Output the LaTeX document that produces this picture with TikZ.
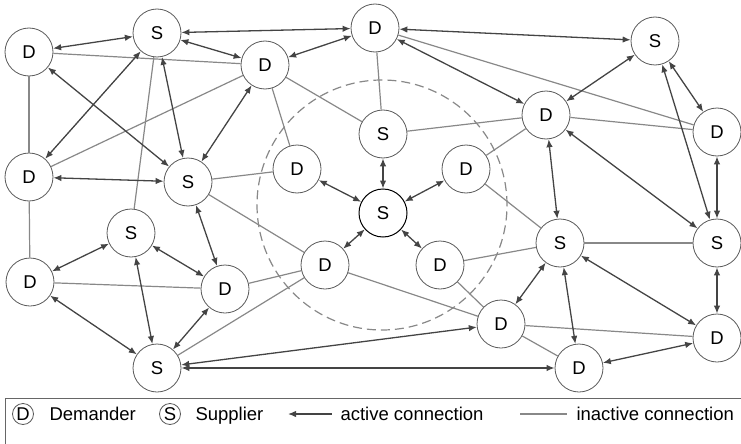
\documentclass[tikz,border=0pt]{standalone}
\usepackage{fontspec}
\setmainfont{Liberation Sans}
\usetikzlibrary{arrows.meta}
\definecolor{actgray}{RGB}{68,68,68}
\definecolor{inactgray}{RGB}{136,136,136}

\begin{document}
\begin{tikzpicture}[x=1pt,y=-1pt,font=\fontsize{18.5}{21}\selectfont,
  >={Latex[length=8pt,width=6.5pt]},
  agent/.style={circle,draw=black!65,fill=white,line width=.8pt,minimum size=48pt,inner sep=0pt},
  hub/.style={agent,draw=black,line width=1pt},
  key/.style={circle,draw=black!65,line width=.8pt,minimum size=21pt,inner sep=0pt},
  active/.style={actgray,line width=1.3pt,<->},
  inactive/.style={inactgray,line width=1.2pt}]
\useasboundingbox (0,0) rectangle (741,444);
\draw [inactgray,line width=1.2pt,dash pattern=on 9pt off 5pt] (382,205) circle [radius=125pt];
\foreach \i/\x/\y in {1/29/52,2/265/65,3/375/28,4/546/115,5/717/132,6/297/169,7/466/169,8/29/177,
	9/30/282,10/325/265,11/440/265,12/225/289,13/501/324,14/717/338,15/579/368}
	\node [agent] (d\i) at (\x,\y) {D};
\foreach \i/\x/\y in {1/157/33,2/655/41,3/383/134,4/188/182,6/131/233,7/560/243,8/717/243,9/157/368}
	\node [agent] (s\i) at (\x,\y) {S};
\node [hub] (s5) at (383,213) {S};
\foreach \a/\b in {d1/d2,d1/d8,s1/s6,d2/d8,d2/d6,d2/s3,s4/d6,s4/d10,d3/d5,d3/s3,d4/d5,s3/d4,
	d7/d4,d7/s7,d8/d9,d9/d12,d10/d12,s9/d10,d10/d13,d11/d13,d11/s7,s7/s8,d13/d14,d13/d15}
	\draw [inactive] (\a) -- (\b);
\foreach \a/\b in {d1/s1,s1/d2,s1/d3,d2/d3,d1/s4,s1/d8,s1/s4,d2/s4,d8/s4,d6/s5,d3/s2,d3/d4,
	s2/d4,s2/d5,s3/s5,d7/s5,d4/s7,d4/s8,s2/s8,d5/s8,d10/s5,d11/s5,s7/d13,s9/d13,s9/d15,
	d9/s6,s6/d12,s6/s9,d9/s9,d12/s9,s4/d12,s7/d14,s8/d14,d15/d14,s7/d15}
	\draw [active] (\a) -- (\b);
\draw [black!60,line width=.9pt] (5,398) rectangle (748,452);
\node [key] (keyd) at (23,414) {D};
\node [anchor=base west] (keydtext) at (46,420) {Demander};
\node [key] (keys) at (170,414) {S};
\node [anchor=base west] (keystext) at (192,420) {Supplier};
\coordinate (acta) at (288,414);
\coordinate (actb) at (332,414);
\draw [actgray,line width=1.3pt,<-] (acta) -- (actb);
\node [anchor=base west] (acttext) at (337,420) {active connection};
\coordinate (inacta) at (520,414);
\coordinate (inactb) at (567,414);
\draw [inactive] (inacta) -- (inactb);
\node [anchor=base west] (inacttext) at (573,420) {inactive connection};
\end{tikzpicture}
\end{document}
